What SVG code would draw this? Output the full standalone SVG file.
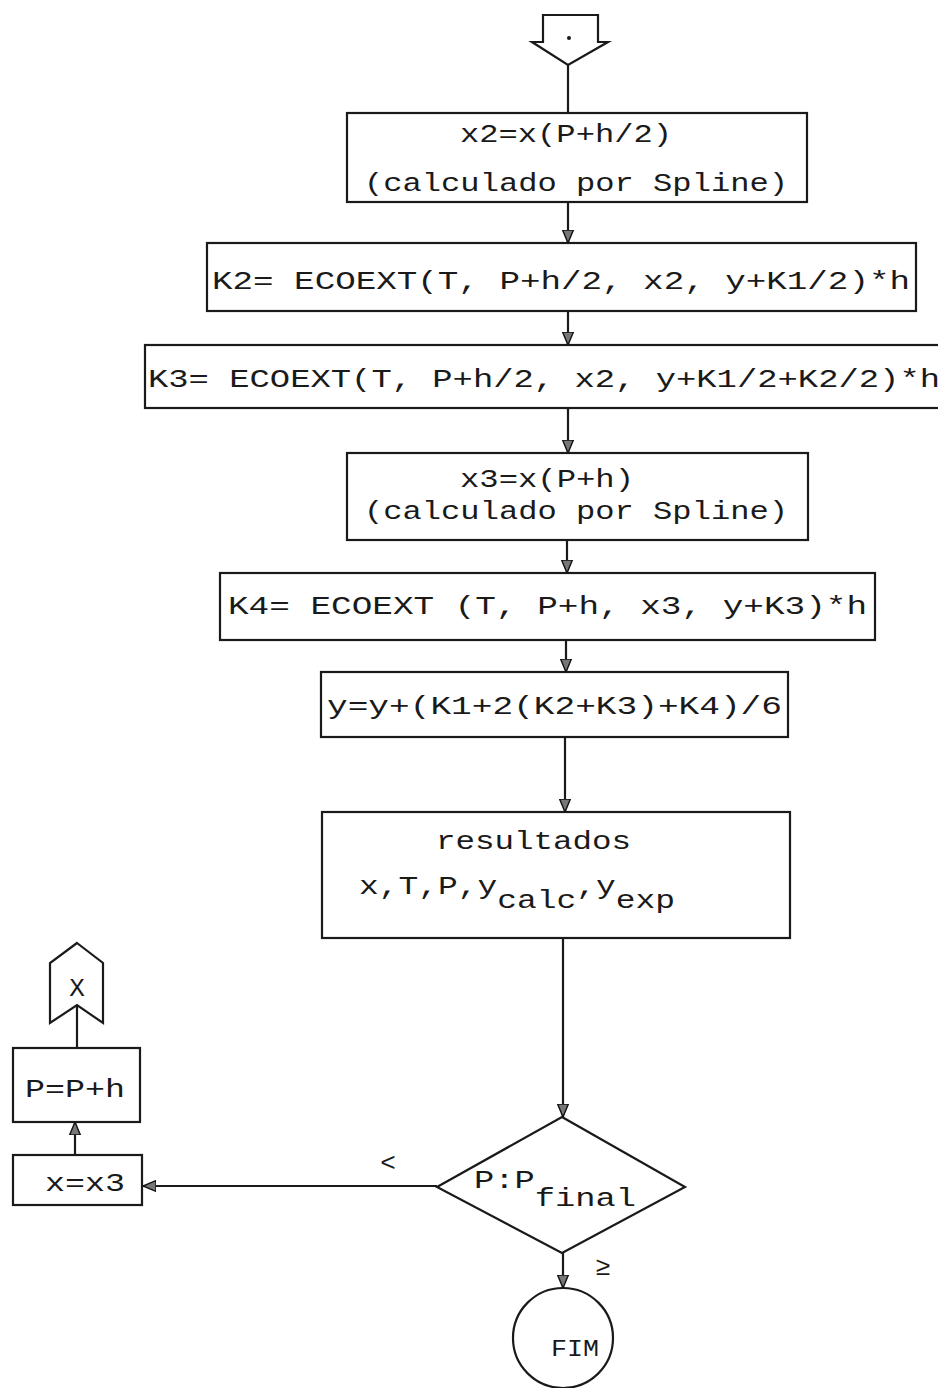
<svg xmlns="http://www.w3.org/2000/svg" width="938" height="1388" viewBox="0 0 938 1388">
<style>
.box{fill:none;stroke:#1a1a1a;stroke-width:2.2}
.ln{fill:none;stroke:#1a1a1a;stroke-width:2.2}
.t{font-family:"Liberation Mono","DejaVu Sans Mono",monospace;font-size:26px;fill:#1a1a1a}
.ts{font-family:"Liberation Mono","DejaVu Sans Mono",monospace;font-size:24px;fill:#1a1a1a}
</style>
<defs>
<marker id="ah" viewBox="0 0 12 12" refX="12" refY="6" markerWidth="13" markerHeight="13" orient="auto" markerUnits="userSpaceOnUse">
<path d="M0,1 L12,6 L0,11 Z" fill="#777" stroke="#111" stroke-width="1.3"/>
</marker>
</defs>
<rect width="938" height="1388" fill="#fff"/>

<g id="start">
<path class="box" d="M543,15 H598 V42 H608 L568,65 L532,42 H543 Z"/>
<circle cx="569" cy="38" r="2" fill="#1a1a1a"/>
</g>

<g id="x2box">
<rect class="box" x="347" y="113" width="460" height="89"/>
<text class="t" x="460" y="142" textLength="212" lengthAdjust="spacingAndGlyphs">x2=x(P+h/2)</text>
<text class="t" x="364" y="191" textLength="424" lengthAdjust="spacingAndGlyphs">(calculado por Spline)</text>
</g>

<g id="k2box">
<rect class="box" x="207" y="243" width="709" height="68"/>
<text class="t" x="212" y="289" textLength="698" lengthAdjust="spacingAndGlyphs">K2= ECOEXT(T, P+h/2, x2, y+K1/2)*h</text>
</g>

<g id="k3box">
<rect class="box" x="145" y="345" width="810" height="63"/>
<text class="t" x="148" y="387" textLength="792" lengthAdjust="spacingAndGlyphs">K3= ECOEXT(T, P+h/2, x2, y+K1/2+K2/2)*h</text>
</g>

<g id="x3box">
<rect class="box" x="347" y="453" width="461" height="87"/>
<text class="t" x="460" y="487" textLength="174" lengthAdjust="spacingAndGlyphs">x3=x(P+h)</text>
<text class="t" x="364" y="519" textLength="424" lengthAdjust="spacingAndGlyphs">(calculado por Spline)</text>
</g>

<g id="k4box">
<rect class="box" x="220" y="573" width="655" height="67"/>
<text class="t" x="228" y="614" textLength="639" lengthAdjust="spacingAndGlyphs">K4= ECOEXT (T, P+h, x3, y+K3)*h</text>
</g>

<g id="ybox">
<rect class="box" x="321" y="672" width="467" height="65"/>
<text class="t" x="327" y="714" textLength="455" lengthAdjust="spacingAndGlyphs">y=y+(K1+2(K2+K3)+K4)/6</text>
</g>

<g id="resultados">
<rect class="box" x="322" y="812" width="468" height="126"/>
<text class="t" x="436" y="849" textLength="195" lengthAdjust="spacingAndGlyphs">resultados</text>
<text class="t" x="359" y="894" textLength="316" lengthAdjust="spacingAndGlyphs">x,T,P,y<tspan dy="14">calc</tspan><tspan dy="-14">,y</tspan><tspan dy="14">exp</tspan></text>
</g>

<g id="decision">
<path class="box" d="M562,1117 L685,1187 L562,1253 L437,1187 Z"/>
<text class="t" x="474" y="1188" textLength="162" lengthAdjust="spacingAndGlyphs">P:P<tspan dy="18">final</tspan></text>
</g>

<g id="labels">
<text class="t" x="388" y="1171" text-anchor="middle">&lt;</text>
<text class="t" x="603" y="1275" text-anchor="middle">≥</text>
</g>

<g id="xx3box">
<rect class="box" x="13" y="1155" width="129" height="50"/>
<text class="t" x="45" y="1191" textLength="80" lengthAdjust="spacingAndGlyphs">x=x3</text>
</g>

<g id="ppbox">
<rect class="box" x="13" y="1048" width="127" height="74"/>
<text class="t" x="25" y="1097" textLength="100" lengthAdjust="spacingAndGlyphs">P=P+h</text>
</g>

<g id="xconn">
<path class="box" d="M77,943 L103,963 V1023 L77,1005 L50,1023 V963 Z"/>
<text class="t" x="77" y="996" text-anchor="middle">X</text>
</g>

<g id="fim">
<circle class="box" cx="563" cy="1338" r="50"/>
<text class="ts" x="551" y="1356" textLength="48" lengthAdjust="spacingAndGlyphs">FIM</text>
</g>

<g id="connectors">
<path class="ln" d="M568,65 V113"/>
<path class="ln" d="M568,202 V243" marker-end="url(#ah)"/>
<path class="ln" d="M568,311 V345" marker-end="url(#ah)"/>
<path class="ln" d="M568,408 V453" marker-end="url(#ah)"/>
<path class="ln" d="M567,540 V573" marker-end="url(#ah)"/>
<path class="ln" d="M566,640 V672" marker-end="url(#ah)"/>
<path class="ln" d="M565,737 V812" marker-end="url(#ah)"/>
<path class="ln" d="M563,938 V1117" marker-end="url(#ah)"/>
<path class="ln" d="M437,1186 H143" marker-end="url(#ah)"/>
<path class="ln" d="M75,1155 V1122" marker-end="url(#ah)"/>
<path class="ln" d="M77,1048 V1005"/>
<path class="ln" d="M563,1253 V1288" marker-end="url(#ah)"/>
</g>
</svg>
